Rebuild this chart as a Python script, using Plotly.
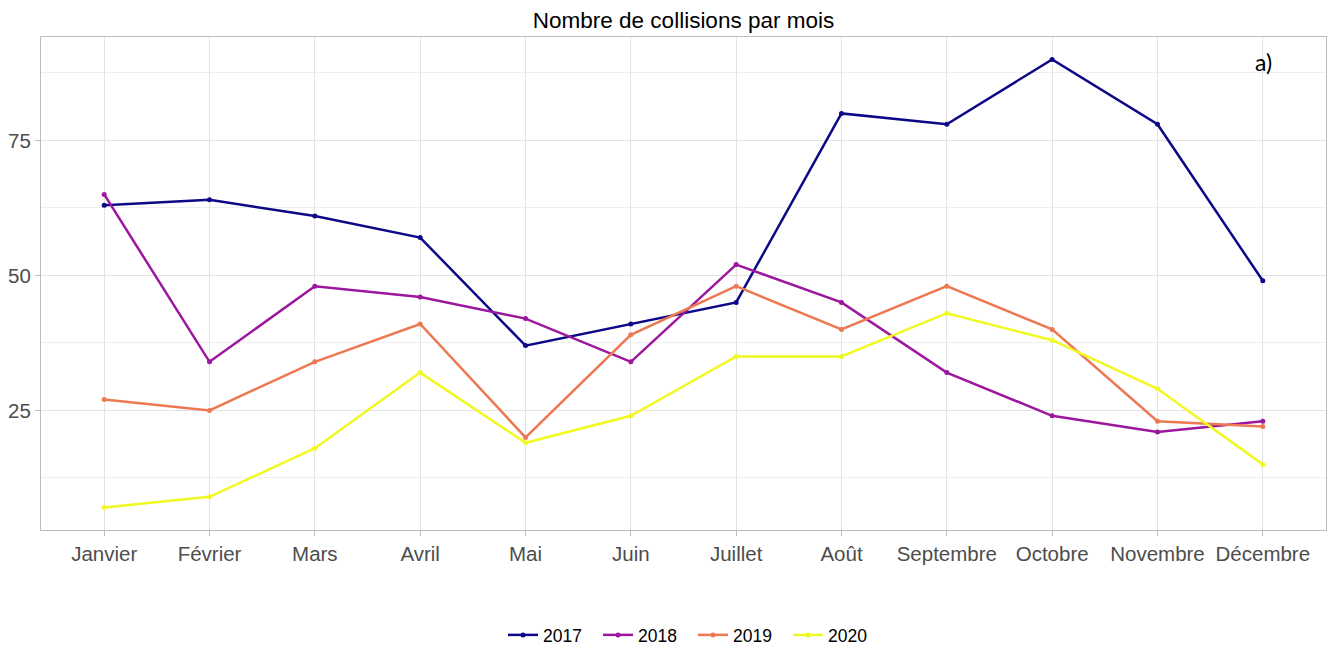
import plotly.graph_objects as go

months = ["Janvier", "Février", "Mars", "Avril", "Mai", "Juin", "Juillet",
          "Août", "Septembre", "Octobre", "Novembre", "Décembre"]
years = ["2017", "2018", "2019", "2020"]
v2017 = [63, 64, 61, 57, 37, 41, 45, 80, 78, 90, 78, 49]
v2018 = [65, 34, 48, 46, 42, 34, 52, 45, 32, 24, 21, 23]
v2019 = [27, 25, 34, 41, 20, 39, 48, 40, 48, 40, 23, 22]
v2020 = [7, 9, 18, 32, 19, 24, 35, 35, 43, 38, 29, 15]
series = [v2017, v2018, v2019, v2020]
colors = ["#0D0887", "#9C179E", "#ED7953", "#F0F921"]
yticks = [25, 50, 75]

# The page body has an 8px default margin, so the figure is sized to fit.
W, H = 1330, 640
L, T, R, B = 33, 29, 12, 118

fig = go.Figure()
for name, vals, col in zip(years, series, colors):
    fig.add_trace(go.Scatter(
        x=list(range(len(months))), y=vals, name=name, mode="lines+markers",
        line=dict(color=col, width=2.5), marker=dict(color=col, size=5),
    ))

fig.update_layout(
    width=W, height=H,
    margin=dict(l=L, r=R, t=T, b=B, autoexpand=False),
    paper_bgcolor="white", plot_bgcolor="white",
    font=dict(family="Liberation Sans, Arial, sans-serif", color="#4d4d4d"),
    title=dict(text="Nombre de collisions par mois", x=675.5 / W, xanchor="center",
               y=1 - 12.5 / H, yanchor="middle",
               font=dict(size=22.5, color="black")),
    showlegend=True,
    legend=dict(orientation="h", x=685 / W, xref="container", xanchor="center",
                y=(H - B - 627) / (H - T - B), yanchor="middle",
                font=dict(size=17.5, color="black"),
                entrywidth=50, entrywidthmode="pixels",
                traceorder="normal"),
    xaxis=dict(
        range=[-0.6, 11.6], tickmode="array", automargin=False,
        tickvals=list(range(len(months))), ticktext=months,
        showgrid=True, gridcolor="#E3E3E3", gridwidth=1,
        ticks="outside", ticklen=5, tickcolor="#BDBDBD",
        tickfont=dict(size=20.5, color="#4d4d4d"),
        showline=True, linecolor="#BDBDBD", mirror=True, zeroline=False,
    ),
    yaxis=dict(
        range=[2.85, 94.15], tickmode="array", tickvals=yticks, automargin=False,
        showgrid=True, gridcolor="#E3E3E3", gridwidth=1,
        minor=dict(tickvals=[12.5, 37.5, 62.5, 87.5], showgrid=True,
                   gridcolor="#EEEEEE", gridwidth=1),
        ticks="outside", ticklen=5, tickcolor="#BDBDBD",
        tickfont=dict(size=20.5, color="#4d4d4d"),
        showline=True, linecolor="#BDBDBD", mirror=True, zeroline=False,
    ),
    annotations=[dict(text="a)", xref="paper", yref="paper", x=0.951, y=0.949,
                      xanchor="center", yanchor="middle", showarrow=False,
                      font=dict(size=23, color="black", family="Lato, sans-serif"))],
)

fig.write_html("out.html")
